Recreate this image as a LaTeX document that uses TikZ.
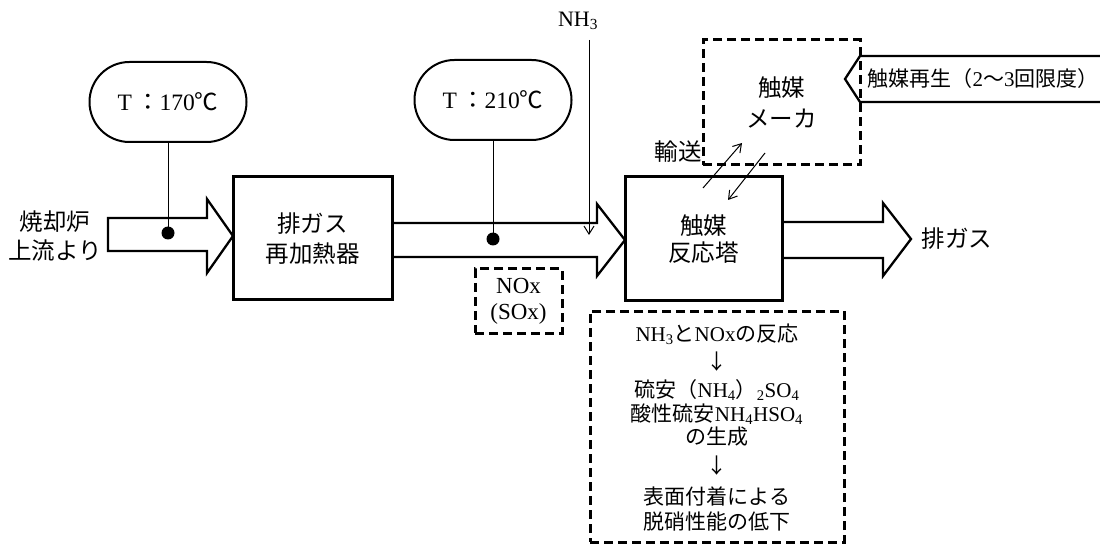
\documentclass[tikz,border=0pt]{standalone}
\usepackage{fontspec}
\setmainfont{Liberation Serif}
\newfontfamily\cjkfont{Noto Sans CJK JP}
\newcommand{\jp}[1]{{\cjkfont #1}}
\usetikzlibrary{arrows.meta}
\tikzset{
  txt/.style={font=\fontsize{23.5}{28}\selectfont, inner sep=0pt, align=center},
  efftxt/.style={font=\fontsize{21}{24}\selectfont, inner sep=0pt, align=center},
  unitbox/.style={draw, line width=3pt, txt},
  dashbox/.style={draw, line width=3pt, dash pattern=on 9pt off 5pt, txt},
  pill/.style={draw, line width=2pt, rounded corners=39.9pt, txt, minimum width=157pt, minimum height=80pt},
  dot/.style={circle, fill=black, inner sep=0pt, minimum size=13pt},
  fatarrow/.style={draw, line width=2.3pt, line join=miter},
  thinline/.style={line width=1pt},
  thinarrow/.style={line width=1pt, -{Straight Barb[length=8pt,width=10pt]}},
}
\begin{document}
\begin{tikzpicture}[x=1pt,y=-1pt]
\useasboundingbox (0,0) rectangle (1100,545);

% block arrows
\draw[fatarrow] (108,218) -- (207,218) -- (207,199) -- (233,236) -- (207,273) -- (207,251) -- (108,251) -- cycle;
\draw[fatarrow] (392,223) -- (597,223) -- (597,204) -- (625,240) -- (597,276) -- (597,257) -- (392,257);
\draw[fatarrow] (782,222) -- (883,222) -- (883,203) -- (911,239) -- (883,276) -- (883,258) -- (782,258);
\draw[fatarrow] (1105,56) -- (860,56) -- (845,79) -- (860,102) -- (1105,102);

% units
\node[unitbox, minimum width=159pt, minimum height=123pt, font=\fontsize{23.5}{30}\selectfont] (heater) at (312.5,238.5) {\jp{排ガス}\\\jp{再加熱器}};
\node[unitbox, minimum width=157pt, minimum height=124pt, font=\fontsize{23.5}{27}\selectfont] (reactor) at (703.5,239) {\jp{触媒}\\\jp{反応塔}};
\node[dashbox, minimum width=157pt, minimum height=125pt, font=\fontsize{23.5}{33}\selectfont] (maker) at (781.5,102.5) {\jp{触媒}\\[-2pt]\jp{メーカ}};
\node[dashbox, minimum width=87pt, minimum height=64pt, font=\fontsize{23}{26}\selectfont] (nox) at (518.5,301) {NOx\\(SOx)};
\node[dashbox, minimum width=254pt, minimum height=231pt] (effect) at (717,426.5) {};

% effect text
\node[efftxt] (e1) at (717,334) {NH\textsubscript{3}\jp{と}NOx\jp{の反応}};
\node[efftxt] (e2) at (717,362) {\jp{↓}};
\node[efftxt] (e3) at (717,390) {\jp{硫安（}NH\textsubscript{4}\jp{）}\textsubscript{2}SO\textsubscript{4}};
\node[efftxt] (e4) at (717,414) {\jp{酸性硫安}NH\textsubscript{4}HSO\textsubscript{4}};
\node[efftxt] (e5) at (717,437) {\jp{の生成}};
\node[efftxt] (e6) at (717,466) {\jp{↓}};
\node[efftxt] (e7) at (717,497) {\jp{表面付着による}};
\node[efftxt] (e8) at (717,522) {\jp{脱硝性能の低下}};

% temperature pills
\node[pill] (t1) at (168,102) {T\,\jp{：}170\jp{℃}};
\node[pill] (t2) at (493,100) {T\,\jp{：}210\jp{℃}};
\node[dot] (d1) at (168,233) {};
\node[dot] (d2) at (493,239) {};
\draw[thinline] (t1.south) -- (d1.center);
\draw[thinline] (t2.south) -- (d2.center);

% labels
\node[txt, font=\fontsize{23.5}{29}\selectfont] (src) at (55,236) {\jp{焼却炉}\\\jp{上流より}};
\node[txt] (out) at (957,239) {\jp{排ガス}};
\node[txt, font=\fontsize{21}{28}\selectfont] (regen) at (983,79) {\jp{触媒再生（}2\jp{～}3\jp{回限度）}};
\node[txt] (trans) at (678,152) {\jp{輸送}};

% NH3 injection
\node[txt, font=\fontsize{22}{26}\selectfont] (nh3) at (578,21) {NH\textsubscript{3}};
\coordinate (nh3top) at (589,40);
\coordinate (nh3end) at (589,235);
\draw[thinarrow] (nh3top) -- (nh3end);

% transport arrows
\coordinate (ta1) at (703,188);
\coordinate (ta2) at (742,143);
\coordinate (tb1) at (765,153);
\coordinate (tb2) at (728,200);
\draw[thinarrow] (ta1) -- (ta2);
\draw[thinarrow] (tb1) -- (tb2);
\end{tikzpicture}
\end{document}
